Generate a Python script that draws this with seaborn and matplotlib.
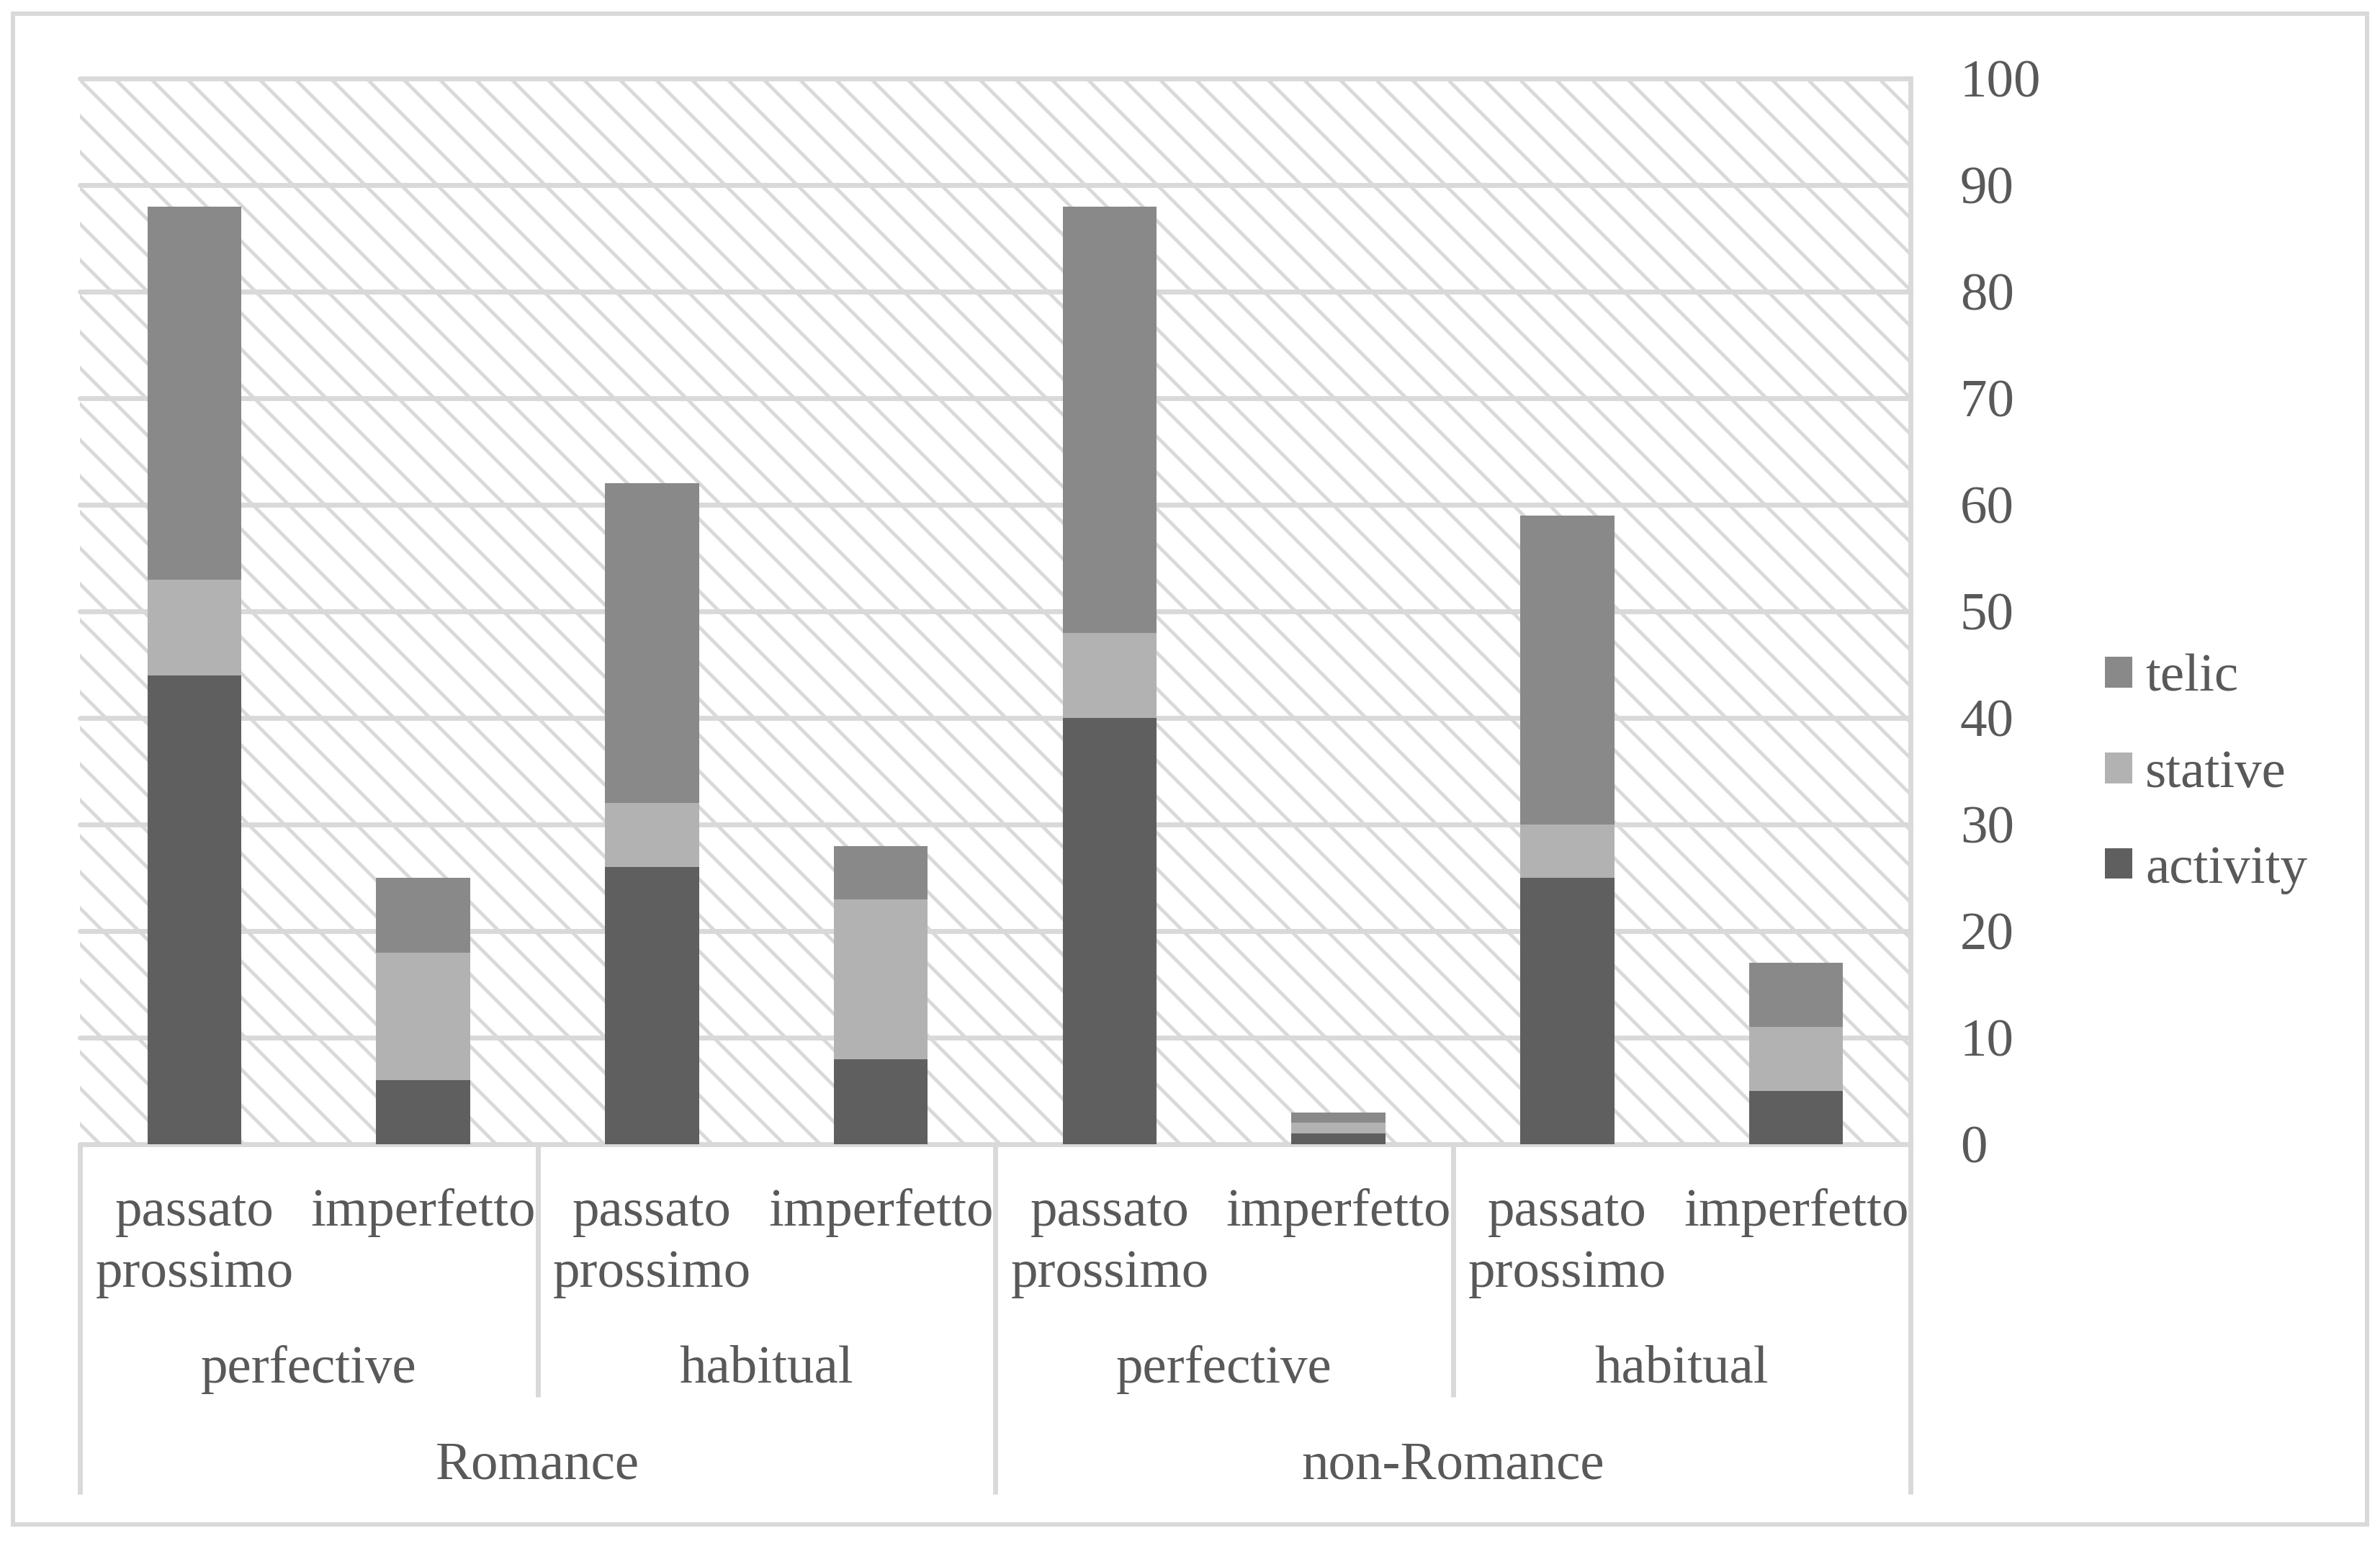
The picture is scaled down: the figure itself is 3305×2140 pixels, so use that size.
import matplotlib
matplotlib.use("Agg")
import matplotlib.pyplot as plt
import seaborn as sns
import pandas as pd
from matplotlib.patches import Rectangle, Patch
from matplotlib.lines import Line2D
from matplotlib.transforms import blended_transform_factory

# ---------------- data ----------------
languages = ["Romance", "non-Romance"]
aspects = ["perfective", "habitual"]
tenses = ["passato\nprossimo", "imperfetto"]
series = ["activity", "stative", "telic"]
activity = [44, 6, 26, 8, 40, 1, 25, 5]
stative = [9, 12, 6, 15, 8, 1, 5, 6]
telic = [35, 7, 30, 5, 40, 1, 29, 6]
y_ticks = [0, 10, 20, 30, 40, 50, 60, 70, 80, 90, 100]

# ---------------- style ----------------
sns.set_style("white")
plt.rcParams["font.family"] = ["Liberation Serif", "DejaVu Serif"]
plt.rcParams["hatch.linewidth"] = 2.3
TXT = "#595959"
GRID = "#d9d9d9"
COLORS = {"telic": "#898989", "stative": "#b2b2b2", "activity": "#5f5f5f"}
FS = 36
LW = 3.3

W, H, DPI = 3305, 2140, 150
fig = plt.figure(figsize=(W / DPI, H / DPI), dpi=DPI)
fig.patch.set_facecolor("white")

L, R, T, B = 111, 2653, 109, 1589
ax = fig.add_axes([L / W, 1 - B / H, (R - L) / W, (B - T) / H])

# build table
keys, rows = [], []
i = 0
for lang in languages:
    for asp in aspects:
        for ten in tenses:
            key = f"{lang}|{asp}|{ten}"
            keys.append(key)
            rows.append(dict(key=key, language=lang, aspect=asp, tense=ten,
                             activity=activity[i], stative=stative[i], telic=telic[i]))
            i += 1
df = pd.DataFrame(rows)
df["lvl_activity"] = df["activity"]
df["lvl_stative"] = df["activity"] + df["stative"]
df["lvl_telic"] = df["activity"] + df["stative"] + df["telic"]

# hatched background of plot area
bg = Rectangle((0, 0), 1, 1, transform=ax.transAxes, facecolor="white",
               edgecolor=GRID, hatch="\\", linewidth=0, zorder=0.1)
ax.add_patch(bg)

# stacked bars (drawn as cumulative overlays)
for s in ["telic", "stative", "activity"]:
    sns.barplot(data=df, x="key", y=f"lvl_{s}", order=keys, color=COLORS[s],
                saturation=1, width=0.41, linewidth=0, errorbar=None, ax=ax,
                zorder=2)

ax.set_xlim(-0.5, 7.5)
ax.set_ylim(0, 100)
ax.set_xlabel("")
ax.set_ylabel("")
ax.tick_params(axis="x", bottom=False, labelbottom=False)
ax.yaxis.tick_right()
ax.set_yticks(y_ticks)
ax.set_yticklabels([str(v) for v in y_ticks])
ax.tick_params(axis="y", length=0, pad=33, labelsize=FS, labelcolor=TXT,
               right=False, left=False, labelright=True, labelleft=False)
ax.set_axisbelow(True)
ax.grid(axis="y", color=GRID, linewidth=LW)
ax.grid(axis="x", visible=False)
for gl in ax.get_ygridlines():
    gl.set_clip_on(False)
    gl.set_zorder(1)
for sp in ["left", "top", "bottom"]:
    ax.spines[sp].set_visible(False)
ax.spines["right"].set_color(GRID)
ax.spines["right"].set_linewidth(LW)

# multi-level category labels
trans = blended_transform_factory(ax.transData, fig.transFigure)
fy = lambda px: 1 - px / H
for j, row in df.iterrows():
    ax.text(j, fy(1650), row["tense"], transform=trans, ha="center", va="top",
            fontsize=FS, color=TXT, linespacing=1.35, multialignment="center")
for k in range(4):
    ax.text(2 * k + 0.5, fy(1920), aspects[k % 2], transform=trans, ha="center",
            va="baseline", fontsize=FS, color=TXT)
for k, lang in enumerate(languages):
    ax.text(4 * k + 1.5, fy(2053), lang, transform=trans, ha="center",
            va="baseline", fontsize=FS, color=TXT)

# separator lines of the category table
for x, yend in [(-0.5, 2075), (1.5, 1940), (3.5, 2075), (5.5, 1940), (7.5, 2075)]:
    ln = Line2D([x, x], [fy(B), fy(yend)], transform=trans, color=GRID,
                linewidth=LW, clip_on=False, solid_capstyle="butt")
    fig.add_artist(ln)

# legend
handles = [Patch(facecolor=COLORS[s], edgecolor="none", label=s)
           for s in ["telic", "stative", "activity"]]
leg = fig.legend(handles=handles, loc="center left",
                 bbox_to_anchor=(2923 / W, fy(1075)), frameon=False,
                 fontsize=FS, labelcolor=TXT, handlelength=0.5, handleheight=0.5,
                 handletextpad=0.25, labelspacing=0.87, borderpad=0,
                 borderaxespad=0)

# outer chart border
fig.add_artist(Rectangle((18 / W, fy(2117)), (3287 - 18) / W, (2117 - 19) / H,
                         transform=fig.transFigure, fill=False,
                         edgecolor=GRID, linewidth=2.9))

fig.savefig("out.png", dpi=DPI, facecolor="white")
